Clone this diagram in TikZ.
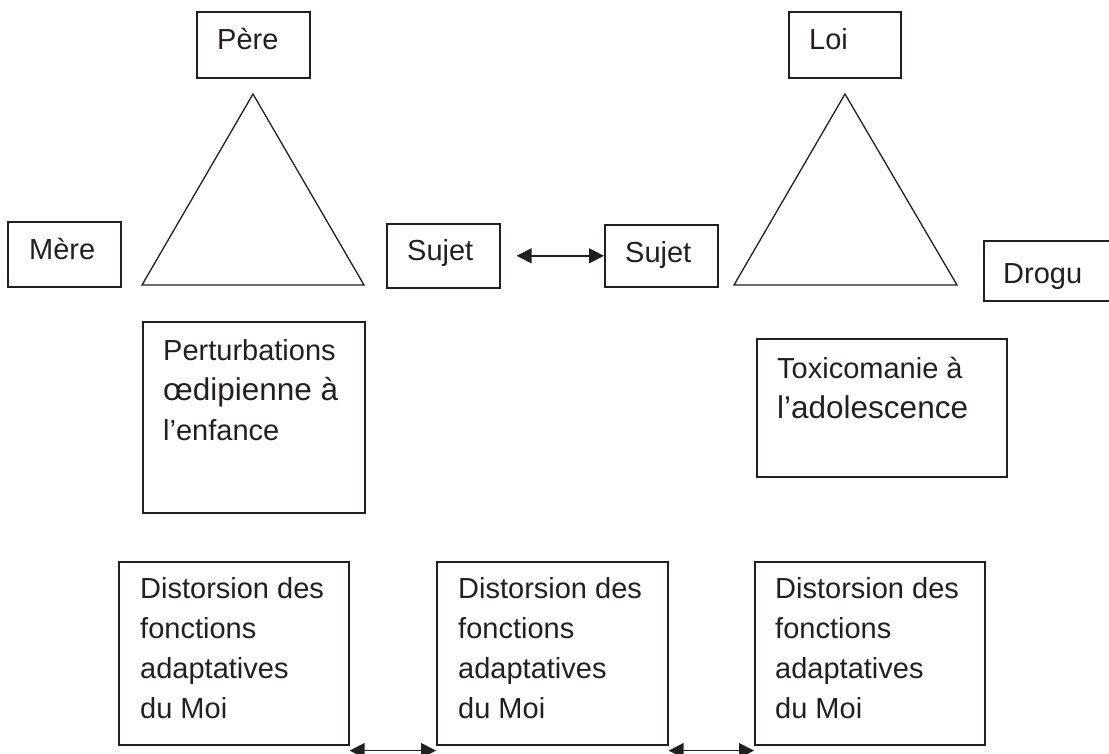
\documentclass[tikz,border=0pt]{standalone}
\usepackage{fontspec}
\setmainfont{Liberation Sans}
\usetikzlibrary{arrows.meta, calc, positioning}
\definecolor{ink}{HTML}{231F20}
\tikzstyle{block} = [draw=ink, rectangle, line width=1.6pt, inner sep=0pt, anchor=north west]
\tikzstyle{boxtext} = [anchor=base west, inner sep=0pt, text=ink, font=\fontsize{29}{40}\selectfont]
\tikzstyle{tri} = [draw=ink, line width=1.3pt, line join=miter]
\tikzstyle{link} = [draw=ink, fill=ink, line width=1.4pt, {Triangle[length=15pt,width=15pt]}-{Triangle[length=15pt,width=15pt]}]

\begin{document}
\begin{tikzpicture}[x=1pt, y=-1pt]
\useasboundingbox (0,0) rectangle (1109,753);
\clip (0,0) rectangle (1109,753);

\node [block, minimum width=113pt, minimum height=66pt] (pere) at (196,11) {};
\node [block, minimum width=113pt, minimum height=65pt] (mere) at (7,221) {};
\node [block, minimum width=113pt, minimum height=64pt] (sujetA) at (386,223) {};
\node [block, minimum width=113pt, minimum height=62pt] (sujetB) at (604,224) {};
\node [block, minimum width=112pt, minimum height=66pt] (loi) at (788,11) {};
\node [block, minimum width=140pt, minimum height=60pt] (drogu) at (983,240) {};
\node [block, minimum width=222pt, minimum height=191pt] (perturb) at (142,321) {};
\node [block, minimum width=250pt, minimum height=138pt] (toxico) at (756,338) {};
\node [block, minimum width=230pt, minimum height=183pt] (distA) at (118,561) {};
\node [block, minimum width=231pt, minimum height=183pt] (distB) at (436,561) {};
\node [block, minimum width=230pt, minimum height=183pt] (distC) at (754,561) {};

\node [boxtext] (pere-txt) at ([shift={(21,38)}]pere.north west) {Père};
\node [boxtext] (mere-txt) at ([shift={(22,38)}]mere.north west) {Mère};
\node [boxtext] (sujetA-txt) at ([shift={(21,37)}]sujetA.north west) {Sujet};
\node [boxtext] (sujetB-txt) at ([shift={(21,38)}]sujetB.north west) {Sujet};
\node [boxtext] (loi-txt) at ([shift={(21,38)}]loi.north west) {Loi};
\node [boxtext] (drogu-txt) at ([shift={(20,43)}]drogu.north west) {Drogu};
\node [boxtext] (perturb-txt) at ([shift={(21,39)}]perturb.north west)
  {\parbox[t]{210pt}{Perturbations\\{\fontsize{31.5}{40}\selectfont œdipienne à}\\l’enfance}};
\node [boxtext] (toxico-txt) at ([shift={(21,40)}]toxico.north west)
  {\parbox[t]{225pt}{Toxicomanie à\\{\fontsize{31.5}{40}\selectfont l’adolescence}}};
\node [boxtext] (distA-txt) at ([shift={(22,37)}]distA.north west)
  {\parbox[t]{205pt}{Distorsion des\\fonctions\\adaptatives\\du Moi}};
\node [boxtext] (distB-txt) at ([shift={(22,37)}]distB.north west)
  {\parbox[t]{205pt}{Distorsion des\\fonctions\\adaptatives\\du Moi}};
\node [boxtext] (distC-txt) at ([shift={(21,37)}]distC.north west)
  {\parbox[t]{205pt}{Distorsion des\\fonctions\\adaptatives\\du Moi}};

\draw [tri] (253,94) -- (364,285) -- (142,285) -- cycle;
\draw [tri] (845,94) -- (957,285) -- (734,285) -- cycle;

\draw [link] ([xshift=16pt]sujetA.east) -- (sujetB.west);
\draw [link] ([yshift=-5pt]distA.south east) -- ([yshift=-5pt]distB.south west);
\draw [link] ([yshift=-5pt]distB.south east) -- ([yshift=-5pt]distC.south west);
\end{tikzpicture}
\end{document}
